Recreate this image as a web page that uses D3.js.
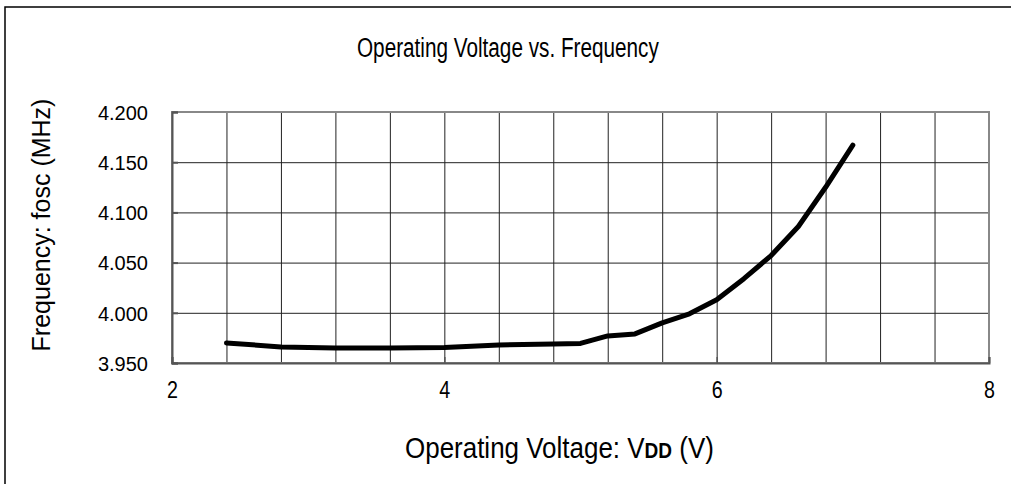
<!DOCTYPE html>
<html>
<head>
<meta charset="utf-8">
<script src="https://d3js.org/d3.v7.min.js"></script>
<style>
  body { margin: 0; background: #fff; }
  text { font-family: "Liberation Sans", Arial, sans-serif; fill: #000; }
</style>
</head>
<body>
<div id="chart"></div>
<script>
  // data
  const voltage = [2.4, 2.8, 3.2, 3.6, 4.0, 4.4, 4.8, 5.0, 5.2, 5.4, 5.6, 5.8, 6.0, 6.2, 6.4, 6.6, 6.8, 7.0]
  const freq = [3.970, 3.966, 3.965, 3.965, 3.9655, 3.968, 3.969, 3.9695, 3.977, 3.979, 3.990, 3.999, 4.013, 4.034, 4.057, 4.086, 4.125, 4.167]
  const xTicks = [2, 4, 6, 8]
  const yTicks = [3.95, 4.0, 4.05, 4.1, 4.15, 4.2]

  const W = 1011, H = 484
  const margin = { left: 172, right: 22, top: 112, bottom: 121 }
  const width = W - margin.left - margin.right
  const height = H - margin.top - margin.bottom

  const svg = d3.select("#chart").append("svg")
    .attr("width", W)
    .attr("height", H)

  // outer frame (only left and top visible)
  svg.append("rect")
    .attr("x", 5).attr("y", 7)
    .attr("width", W + 20).attr("height", H + 20)
    .attr("fill", "none")
    .attr("stroke", "#000")
    .attr("stroke-width", 1.5)

  const x = d3.scaleLinear().domain([2, 8]).range([0, width])
  const y = d3.scaleLinear().domain([3.95, 4.2]).range([height, 0])

  const g = svg.append("g").attr("transform", `translate(${margin.left},${margin.top})`)

  // grid
  g.append("g")
    .call(d3.axisBottom(x).tickValues(d3.range(2.4, 7.7, 0.4)).tickSize(height).tickFormat(""))
    .call(s => s.select(".domain").remove())
    .call(s => s.selectAll("line").attr("stroke", "#222").attr("stroke-width", 1))

  g.append("g")
    .call(d3.axisLeft(y).tickValues(yTicks.slice(1, 5)).tickSize(-width).tickFormat(""))
    .call(s => s.select(".domain").remove())
    .call(s => s.selectAll("line").attr("stroke", "#222").attr("stroke-width", 1))

  // plot border
  g.append("rect")
    .attr("width", width).attr("height", height)
    .attr("fill", "none")
    .attr("stroke", "#888")
    .attr("stroke-width", 2)

  // axes
  const yAxis = g.append("g")
    .call(d3.axisLeft(y).tickValues(yTicks).tickFormat(d3.format(".3f")).tickSize(-6).tickPadding(24))
  yAxis.attr("font-family", null).attr("font-size", 20)
  yAxis.select(".domain").attr("stroke", "#555").attr("stroke-width", 2)
  yAxis.selectAll("line").attr("stroke", "#555").attr("stroke-width", 2)
  yAxis.selectAll("text").attr("dy", "0.36em")

  const xAxis = g.append("g")
    .attr("transform", `translate(0,${height})`)
    .call(d3.axisBottom(x).tickValues(xTicks).tickFormat(d3.format("d")).tickSize(-6).tickPadding(0))
  xAxis.attr("font-family", null).attr("font-size", 24)
  xAxis.select(".domain").attr("stroke", "#555").attr("stroke-width", 2)
  xAxis.selectAll("line").attr("stroke", "#555").attr("stroke-width", 1.5)
  // tick digits are a bit narrow in the original
  xAxis.selectAll(".tick text")
    .attr("y", 0).attr("dy", null)
    .attr("transform", "translate(0,35) scale(0.82,1)")

  // line
  const line = d3.line()
    .x((d, i) => x(voltage[i]))
    .y(d => y(d))

  g.append("path")
    .datum(freq)
    .attr("d", line)
    .attr("fill", "none")
    .attr("stroke", "#000")
    .attr("stroke-width", 5)
    .attr("stroke-linecap", "round")
    .attr("stroke-linejoin", "round")

  // squeeze a text horizontally so it spans x0..x1
  function fit(sel, x0, x1, yy) {
    const w = sel.node().getComputedTextLength()
    sel.attr("transform", `translate(${x0},${yy}) scale(${(x1 - x0) / w},1)`)
  }

  // title
  const title = svg.append("text")
    .attr("font-size", 28)
    .text("Operating Voltage vs. Frequency")
  fit(title, 357, 659, 57)

  // x label
  const xl = svg.append("text")
    .attr("font-size", 30)
  xl.append("tspan").text("Operating Voltage: V")
  xl.append("tspan").attr("font-size", 22).attr("font-weight", "bold").text("DD")
  xl.append("tspan").text(" (V)")
  fit(xl, 405, 714, 458)

  // y label
  svg.append("text")
    .attr("transform", "translate(50,225) rotate(-90)")
    .attr("text-anchor", "middle")
    .attr("font-size", 25)
    .text("Frequency: fosc (MHz)")
</script>
</body>
</html>
